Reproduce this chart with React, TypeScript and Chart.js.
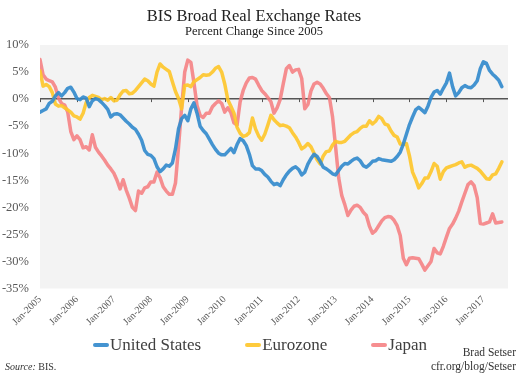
import { useEffect, useRef } from 'react';
import { Chart, registerables } from 'chart.js';

Chart.register(...registerables);

const FONT = '"Liberation Serif", "Times New Roman", serif';

// Monthly observations, Jan-2005 (index 0) ... Jul-2017 (index 150)
const yearLabels = [
  'Jan-2005', 'Jan-2006', 'Jan-2007', 'Jan-2008', 'Jan-2009', 'Jan-2010', 'Jan-2011',
  'Jan-2012', 'Jan-2013', 'Jan-2014', 'Jan-2015', 'Jan-2016', 'Jan-2017',
];

const unitedStates = [
  -2.4, -2.1, -1.8, -0.8, -0.4, 0.6, 1.2, 0.6, 1.2, 2.0, 2.2, 1.3, 0.1, -0.1, 0.4, 0.2, -1.4, -0.3, 0.1, -0.1,
  -0.6, -1.2, -1.9, -3.3, -2.8, -2.7, -2.9, -3.5, -4.1, -4.6, -5.2, -5.6, -6.5, -7.6, -9.5, -10.2, -10.4, -11.0, -12.5, -13.4,
  -12.9, -12.2, -12.4, -11.8, -9.2, -5.5, -3.6, -3.0, -4.0, -1.8, -0.7, -2.6, -5.0, -5.8, -6.4, -7.4, -8.4, -9.3, -10.0, -10.3,
  -10.3, -9.7, -9.1, -9.9, -8.4, -7.3, -7.7, -8.6, -10.2, -12.3, -12.9, -12.9, -13.2, -13.9, -14.4, -15.2, -15.8, -15.6, -16.0, -14.9,
  -14.0, -13.3, -12.8, -12.5, -13.0, -14.0, -13.5, -12.0, -11.0, -10.2, -10.6, -11.5, -12.6, -12.9, -13.3, -13.8, -14.0, -13.2, -12.4, -11.9,
  -12.0, -11.5, -11.1, -10.9, -11.4, -12.3, -12.6, -12.1, -11.5, -11.4, -11.0, -11.2, -11.3, -11.4, -11.5, -11.2, -10.6, -9.8, -8.3, -6.5,
  -4.7, -3.3, -2.0, -1.5, -2.0, -2.5, -1.3, 0.3, 1.3, 1.6, 0.9, 2.0, 3.0, 4.8, 2.3, 0.6, 1.2, 2.1, 2.5, 2.2,
  2.1, 2.6, 3.4, 5.6, 6.9, 6.6, 5.3, 4.6, 4.1, 3.5, 2.3,
];

const eurozone = [
  5.2, 2.4, 2.7, 2.3, 1.2, -0.9, -1.3, -1.2, -1.6, -2.0, -2.4, -3.1, -3.3, -3.7, -2.6, -0.6, 0.3, 0.7, 0.5, 0.3,
  -0.1, 0.1, -0.2, 0.3, -0.3, -0.2, 0.8, 1.5, 1.6, 1.0, 1.1, 1.6, 2.3, 3.0, 3.7, 3.4, 2.8, 2.4, 5.0, 6.5,
  5.9, 5.5, 5.1, 3.2, 1.4, 0.1, -1.8, 2.5, 2.6, 2.3, 3.2, 3.6, 4.0, 4.5, 4.4, 4.5, 5.0, 5.7, 6.0, 5.0,
  2.8, -0.1, -1.3, -2.6, -5.2, -6.3, -6.9, -6.7, -6.2, -3.5, -5.5, -6.8, -7.6, -6.5, -4.8, -3.0, -3.8, -4.4, -4.9, -4.8,
  -5.0, -5.3, -6.2, -7.0, -8.0, -9.2, -8.8, -8.2, -8.8, -10.0, -11.2, -12.0, -10.5, -9.7, -9.6, -8.5, -7.8, -8.0, -8.0, -7.8,
  -7.2, -6.6, -6.2, -6.0, -5.4, -5.0, -5.0, -4.0, -4.6, -4.1, -3.2, -3.6, -4.6, -4.8, -5.9, -6.7, -7.0, -8.3, -8.4, -8.2,
  -10.5, -13.5, -14.8, -16.4, -15.6, -14.6, -14.6, -13.4, -11.9, -12.4, -14.8, -13.4, -12.7, -12.5, -12.3, -12.1, -11.8, -11.6, -12.6, -12.3,
  -12.2, -12.5, -12.8, -13.3, -14.0, -14.7, -14.8, -14.0, -13.8, -12.8, -11.6,
];

const japan = [
  7.3, 4.5, 3.7, 3.4, 3.2, 2.2, 0.2, -0.8, -1.1, -2.4, -6.0, -7.5, -6.8, -7.5, -9.0, -8.8, -9.4, -6.6, -8.9, -9.8,
  -10.5, -11.3, -12.2, -12.9, -13.7, -15.0, -16.6, -14.9, -16.8, -18.3, -20.0, -20.6, -17.0, -17.4, -16.4, -16.2, -15.3, -15.3, -13.5, -14.5,
  -16.2, -17.0, -17.6, -17.6, -15.5, -8.8, -1.5, 5.0, 7.2, 6.8, 3.0, -1.2, -3.0, -3.4, -2.6, -2.6, -1.4, -0.8, -0.3, -0.8,
  -2.4, -1.6, -2.5, -4.4, -4.8, -0.5, 1.6, 3.0, 3.9, 4.0, 3.7, 2.6, 1.6, 1.0, 0.3, -0.5, -2.6, -1.6, -0.1, 2.8,
  5.6, 6.2, 5.0, 5.4, 5.5, 3.8, -1.8, -1.0, 1.5, 2.8, 3.1, 2.8, 2.0, 1.0, 0.3, -3.2, -8.8, -14.5, -17.8, -19.5,
  -21.5, -20.5, -19.8, -19.6, -20.0, -20.9, -21.5, -23.5, -24.8, -24.3, -23.4, -22.5, -21.9, -21.7, -21.8, -22.4, -23.4, -25.2, -29.4, -30.6,
  -29.4, -29.3, -29.4, -29.5, -30.5, -31.6, -30.8, -30.0, -27.6, -28.4, -28.6, -27.2, -25.5, -23.9, -23.1, -22.0, -20.7, -19.0, -17.4, -15.8,
  -15.3, -16.0, -18.2, -23.0, -23.1, -22.9, -22.7, -21.2, -22.9, -22.8, -22.7,
];

const seriesNames = ['United States', 'Eurozone', 'Japan'];
const seriesColors = ['rgba(52,139,205,0.92)', 'rgba(254,197,40,0.9)', 'rgba(244,122,124,0.85)'];
const seriesValues = [unitedStates, eurozone, japan];

const plotBackground = {
  id: 'plotBackground',
  beforeDraw(chart: any) {
    const { ctx, chartArea } = chart;
    ctx.save();
    ctx.fillStyle = '#f3f3f3';
    ctx.fillRect(chartArea.left, chartArea.top, chartArea.right - chartArea.left, chartArea.bottom - chartArea.top);
    ctx.restore();
  },
};

const zeroTicks = {
  id: 'zeroTicks',
  beforeDatasetsDraw(chart: any) {
    const { ctx } = chart;
    const xs = chart.scales.x;
    const ys = chart.scales.y;
    const y0 = ys.getPixelForValue(0);
    ctx.save();
    ctx.strokeStyle = '#555555';
    ctx.lineWidth = 1;
    xs.ticks.forEach((t: any) => {
      const x = Math.round(xs.getPixelForValue(t.value)) + 0.5;
      ctx.beginPath();
      ctx.moveTo(x, y0);
      ctx.lineTo(x, y0 + 3);
      ctx.stroke();
    });
    ctx.restore();
  },
};

export default function App() {
  const ref = useRef<HTMLCanvasElement | null>(null);

  useEffect(() => {
    if (!ref.current) return;
    const chart = new Chart(ref.current, {
      type: 'line',
      data: {
        datasets: seriesValues.map((vals, k) => ({
          label: seriesNames[k],
          data: vals.map((v, i) => ({ x: i, y: v })),
          borderColor: seriesColors[k],
          backgroundColor: seriesColors[k],
          borderWidth: 3.5,
          pointRadius: 0,
          tension: 0,
          borderJoinStyle: 'round',
          borderCapStyle: 'round',
        })),
      },
      options: {
        responsive: false,
        animation: false,
        devicePixelRatio: 1,
        layout: { padding: { left: 0, right: 12, top: 0, bottom: 0 } },
        plugins: {
          legend: { display: false },
          tooltip: { enabled: false },
          title: {
            display: true,
            text: 'BIS Broad Real Exchange Rates',
            color: '#222222',
            font: { family: FONT, size: 16.5, weight: 'normal', lineHeight: 1 },
            padding: { top: 8, bottom: 0 },
          },
          subtitle: {
            display: true,
            text: 'Percent Change Since 2005',
            color: '#222222',
            font: { family: FONT, size: 12.5, lineHeight: 1.2 },
            padding: { top: 0, bottom: 5.5 },
          },
        },
        scales: {
          x: {
            type: 'linear',
            min: 0,
            max: 152,
            afterBuildTicks: (s: any) => {
              s.ticks = yearLabels.map((_, i) => ({ value: i * 12 }));
            },
            afterFit: (s: any) => {
              s.height = 85.5;
            },
            grid: { display: false, drawTicks: false },
            border: { display: false },
            ticks: {
              autoSkip: false,
              minRotation: 45,
              maxRotation: 45,
              padding: 5,
              color: '#595959',
              font: { family: FONT, size: 10 },
              callback: (v: any) => yearLabels[Math.round(Number(v) / 12)] ?? '',
            },
          },
          y: {
            min: -35,
            max: 10,
            afterFit: (s: any) => {
              s.width = 40;
            },
            grid: {
              drawTicks: false,
              color: (c: any) => (c.tick && c.tick.value === 0 ? '#555555' : 'rgba(0,0,0,0)'),
              lineWidth: 1.5,
            },
            border: { display: false },
            ticks: {
              stepSize: 5,
              padding: 11,
              color: '#595959',
              font: { family: FONT, size: 12.5 },
              callback: (v: any) => `${v}%`,
            },
          },
        },
      },
      plugins: [plotBackground, zeroTicks],
    });
    return () => chart.destroy();
  }, []);

  const legendItem = (k: number) => (
    <div key={k} style={{ display: 'flex', alignItems: 'center' }}>
      <span
        style={{
          display: 'inline-block',
          width: 16,
          height: 4,
          borderRadius: 2,
          background: seriesColors[k],
          marginRight: 1,
        }}
      />
      <span>{seriesNames[k]}</span>
    </div>
  );

  return (
    <div
      style={{
        position: 'fixed',
        left: 0,
        top: 0,
        width: 520,
        height: 374,
        background: '#ffffff',
        fontFamily: FONT,
        overflow: 'hidden',
      }}
    >
      <canvas ref={ref} width={520} height={374} style={{ display: 'block', width: 520, height: 374 }} />
      <div
        style={{
          position: 'absolute',
          left: 0,
          top: 334,
          width: 520,
          display: 'flex',
          justifyContent: 'center',
          gap: 44,
          fontSize: 17,
          lineHeight: '22px',
          color: '#404040',
        }}
      >
        {seriesNames.map((_, k) => legendItem(k))}
      </div>
      <div style={{ position: 'absolute', left: 5, top: 360, fontSize: 10, color: '#333333', lineHeight: '14px' }}>
        <i>Source:</i> BIS.
      </div>
      <div
        style={{
          position: 'absolute',
          right: 4,
          top: 345,
          fontSize: 11.5,
          color: '#333333',
          lineHeight: '14px',
          textAlign: 'right',
        }}
      >
        <div>Brad Setser</div>
        <div>cfr.org/blog/Setser</div>
      </div>
    </div>
  );
}
